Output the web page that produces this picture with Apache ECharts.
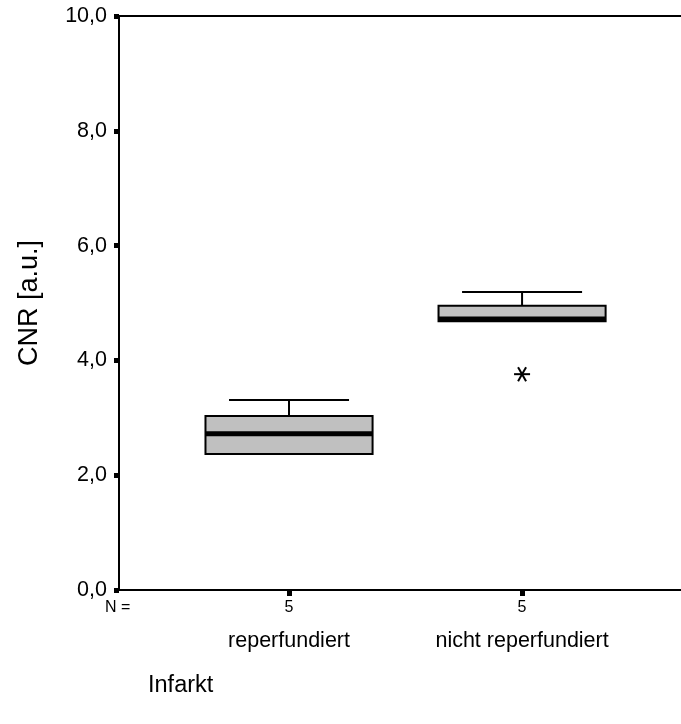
<!DOCTYPE html>
<html>
<head>
<meta charset="utf-8">
<script src="https://cdn.jsdelivr.net/npm/echarts@6/dist/echarts.min.js"></script>
<style>
html,body{margin:0;padding:0;background:#fff;}
#chart{width:681px;height:724px;}
</style>
</head>
<body>
<div id="chart"></div>
<script>
// ---- data ----
const categories = ['reperfundiert', 'nicht reperfundiert'];
const nValues = [5, 5];
const whiskerLow = [2.37, 4.68];
const q1 = [2.37, 4.68];
const median = [2.72, 4.72];
const q3 = [3.03, 4.95];
const whiskerHigh = [3.31, 5.19];
const outlierCategory = [1];      // index into categories
const outlierValue = [3.76];
const yTicks = [0, 2, 4, 6, 8, 10];
const yTitle = 'CNR [a.u.]';
const xTitle = 'Infarkt';
const nLabel = 'N =';

const FONT = '"Liberation Sans", Arial, Helvetica, sans-serif';
const xPos = categories.map((c, i) => i + 1);
const boxData = categories.map((c, i) => [xPos[i], whiskerLow[i], q1[i], median[i], q3[i], whiskerHigh[i]]);
const outData = outlierCategory.map((ci, k) => [xPos[ci], outlierValue[k]]);

const chart = echarts.init(document.getElementById('chart'));

const xMin = 0.2704, xMax = 2.682;

function renderBox(params, api) {
  const x = api.value(0);
  const lo = api.coord([x, api.value(1)]);
  const b1 = api.coord([x, api.value(2)]);
  const md = api.coord([x, api.value(3)]);
  const b3 = api.coord([x, api.value(4)]);
  const hi = api.coord([x, api.value(5)]);
  const bw = api.size([0.717, 0])[0];
  const ww = api.size([0.515, 0])[0];
  const cx = b1[0];
  const ls = {stroke: '#000', lineWidth: 2, fill: null};
  const children = [];
  children.push({type: 'line', shape: {x1: cx, y1: b3[1], x2: cx, y2: hi[1]}, style: ls});
  children.push({type: 'line', shape: {x1: cx - ww / 2, y1: hi[1], x2: cx + ww / 2, y2: hi[1]}, style: ls});
  if (lo[1] - b1[1] > 1) {
    children.push({type: 'line', shape: {x1: cx, y1: b1[1], x2: cx, y2: lo[1]}, style: ls});
    children.push({type: 'line', shape: {x1: cx - ww / 2, y1: lo[1], x2: cx + ww / 2, y2: lo[1]}, style: ls});
  }
  children.push({type: 'rect', shape: {x: cx - bw / 2, y: b3[1], width: bw, height: b1[1] - b3[1]},
    style: {fill: '#c0c0c0', stroke: '#000', lineWidth: 2}});
  children.push({type: 'line', shape: {x1: cx - bw / 2, y1: md[1], x2: cx + bw / 2, y2: md[1]},
    style: {stroke: '#000', lineWidth: 5}});
  return {type: 'group', children: children};
}

function renderStar(params, api) {
  const p = api.coord([api.value(0), api.value(1)]);
  const ls = {stroke: '#000', lineWidth: 2};
  return {type: 'group', children: [
    {type: 'line', shape: {x1: p[0] - 8, y1: p[1], x2: p[0] + 8, y2: p[1]}, style: ls},
    {type: 'line', shape: {x1: p[0] - 4, y1: p[1] - 7, x2: p[0] + 4, y2: p[1] + 7}, style: ls},
    {type: 'line', shape: {x1: p[0] + 4, y1: p[1] - 7, x2: p[0] - 4, y2: p[1] + 7}, style: ls}
  ]};
}

chart.setOption({
  animation: false,
  backgroundColor: '#fff',
  grid: {left: 119, right: 0, top: 16, bottom: 134, containLabel: false},
  xAxis: [{
    type: 'value', min: xMin, max: xMax, position: 'bottom',
    splitLine: {show: false},
    axisLine: {show: true, onZero: false, lineStyle: {color: '#000', width: 2}},
    axisTick: {show: true, customValues: xPos, length: 6, inside: false, lineStyle: {color: '#000', width: 5}},
    axisLabel: {
      show: true, customValues: xPos, margin: 9,
      formatter: function (v) {
        const i = Math.round(v) - 1;
        return '{n|' + nValues[i] + '}\n{c|' + categories[i] + '}';
      },
      rich: {
        n: {fontFamily: FONT, fontSize: 16, color: '#000', lineHeight: 18},
        c: {fontFamily: FONT, fontSize: 21.5, color: '#000', lineHeight: 48}
      }
    }
  }, {
    type: 'value', min: xMin, max: xMax, position: 'top',
    splitLine: {show: false},
    axisLine: {show: true, onZero: false, lineStyle: {color: '#000', width: 2}},
    axisTick: {show: false}, axisLabel: {show: false}
  }],
  yAxis: {
    type: 'value', min: 0, max: 10, interval: 2,
    name: yTitle, nameLocation: 'middle', nameGap: 76, nameRotate: 90,
    nameTextStyle: {fontFamily: FONT, fontSize: 27, color: '#000'},
    splitLine: {show: false},
    axisLine: {show: true, lineStyle: {color: '#000', width: 2}},
    axisTick: {show: true, length: 5, lineStyle: {color: '#000', width: 5}},
    axisLabel: {
      fontFamily: FONT, fontSize: 21.5, color: '#000', margin: 12,
      customValues: yTicks,
      formatter: function (v) { return v.toFixed(1).replace('.', ','); }
    }
  },
  series: [{
    type: 'custom', renderItem: renderBox, data: boxData,
    encode: {x: 0, y: [1, 2, 3, 4, 5]}, clip: false
  }, {
    type: 'custom', renderItem: renderStar, data: outData,
    encode: {x: 0, y: 1}, clip: false
  }],
  graphic: [
    {type: 'text', left: 105, top: 600, style: {text: nLabel, font: '16px ' + FONT, fill: '#000'}},
    {type: 'text', left: 148, top: 674, style: {text: xTitle, font: '23.5px ' + FONT, fill: '#000'}}
  ]
});
</script>
</body>
</html>
